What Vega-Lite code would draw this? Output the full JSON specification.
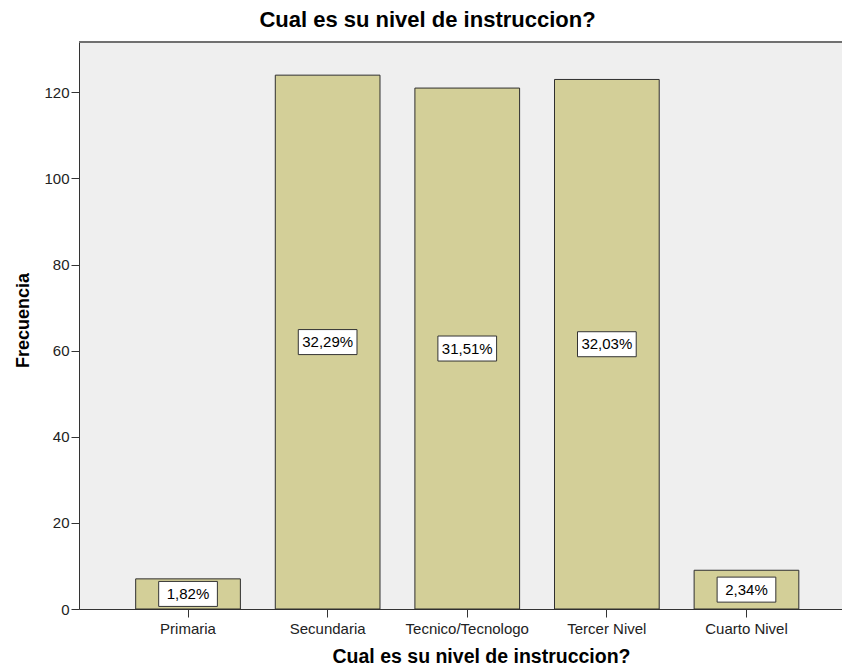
{
  "$schema": "https://vega.github.io/schema/vega-lite/v6.json",
  "autosize": "none",
  "padding": {"left": 79, "top": 42, "right": 0, "bottom": 61},
  "width": 763,
  "height": 567,
  "background": "white",
  "title": {
    "text": "Cual es su nivel de instruccion?",
    "font": "Liberation Sans",
    "fontSize": 22,
    "fontWeight": "bold",
    "color": "#000000",
    "anchor": "middle",
    "frame": "group",
    "dx": -33,
    "offset": 9
  },
  "data": {
    "values": [
      {"nivel": "Primaria", "n": 7},
      {"nivel": "Secundaria", "n": 124},
      {"nivel": "Tecnico/Tecnologo", "n": 121},
      {"nivel": "Tercer Nivel", "n": 123},
      {"nivel": "Cuarto Nivel", "n": 9}
    ]
  },
  "transform": [
    {"joinaggregate": [{"op": "sum", "field": "n", "as": "total"}]},
    {"calculate": "replace(format(datum.n / datum.total, '.2%'), '.', ',')", "as": "pct"},
    {"calculate": "max(datum.n / 2, 2.85)", "as": "labpos"}
  ],
  "layer": [
    {
      "mark": {"type": "rule", "color": "#707070", "strokeWidth": 1.5},
      "encoding": {"y": {"datum": 131.7, "type": "quantitative", "scale": {"domain": [0, 131.7], "nice": false}}}
    },
    {
      "mark": {"type": "bar", "fill": "#D3CF98", "stroke": "#2f2f2f", "strokeWidth": 1},
      "encoding": {
        "x": {
          "field": "nivel",
          "type": "nominal",
          "sort": null,
          "scale": {"range": [0, 776.5], "paddingInner": 0.25, "paddingOuter": 0.406},
          "axis": {
            "title": "Cual es su nivel de instruccion?",
            "titleFont": "Liberation Sans",
            "titleFontSize": 19.5,
            "titleFontWeight": "bold",
            "titleColor": "#000000",
            "titleX": 402,
            "titleY": 53,
            "titleBaseline": "alphabetic",
            "titleAlign": "center",
            "labelAngle": 0,
            "labelFont": "Liberation Sans",
            "labelFontSize": 15,
            "labelColor": "#222222",
            "labelPadding": 4,
            "tickSize": 8,
            "tickColor": "#333333",
            "domainColor": "#333333",
            "grid": false
          }
        },
        "y": {
          "field": "n",
          "type": "quantitative",
          "scale": {"domain": [0, 131.7], "nice": false},
          "axis": {
            "title": "Frecuencia",
            "titleFont": "Liberation Sans",
            "titleFontSize": 18,
            "titleFontWeight": "bold",
            "titleColor": "#000000",
            "titleX": -51,
            "titleY": 278,
            "titleAlign": "center",
            "titleBaseline": "alphabetic",
            "values": [0, 20, 40, 60, 80, 100, 120],
            "labelFont": "Liberation Sans",
            "labelFontSize": 15,
            "labelColor": "#222222",
            "labelPadding": 2,
            "tickSize": 8,
            "tickColor": "#333333",
            "domainColor": "#333333",
            "grid": false
          }
        }
      }
    },
    {
      "mark": {
        "type": "point",
        "shape": "M-1,-0.426L1,-0.426L1,0.426L-1,0.426Z",
        "size": 3446,
        "filled": true,
        "fill": "white",
        "stroke": "#333333",
        "strokeWidth": 1,
        "opacity": 1
      },
      "encoding": {
        "x": {"field": "nivel", "type": "nominal", "sort": null},
        "y": {"field": "labpos", "type": "quantitative"}
      }
    },
    {
      "mark": {
        "type": "text",
        "font": "Liberation Sans",
        "fontSize": 15,
        "color": "#000000",
        "align": "center",
        "baseline": "middle"
      },
      "encoding": {
        "x": {"field": "nivel", "type": "nominal", "sort": null},
        "y": {"field": "labpos", "type": "quantitative"},
        "text": {"field": "pct"}
      }
    }
  ],
  "config": {
    "view": {"fill": "#EFEFEF", "stroke": null}
  }
}
